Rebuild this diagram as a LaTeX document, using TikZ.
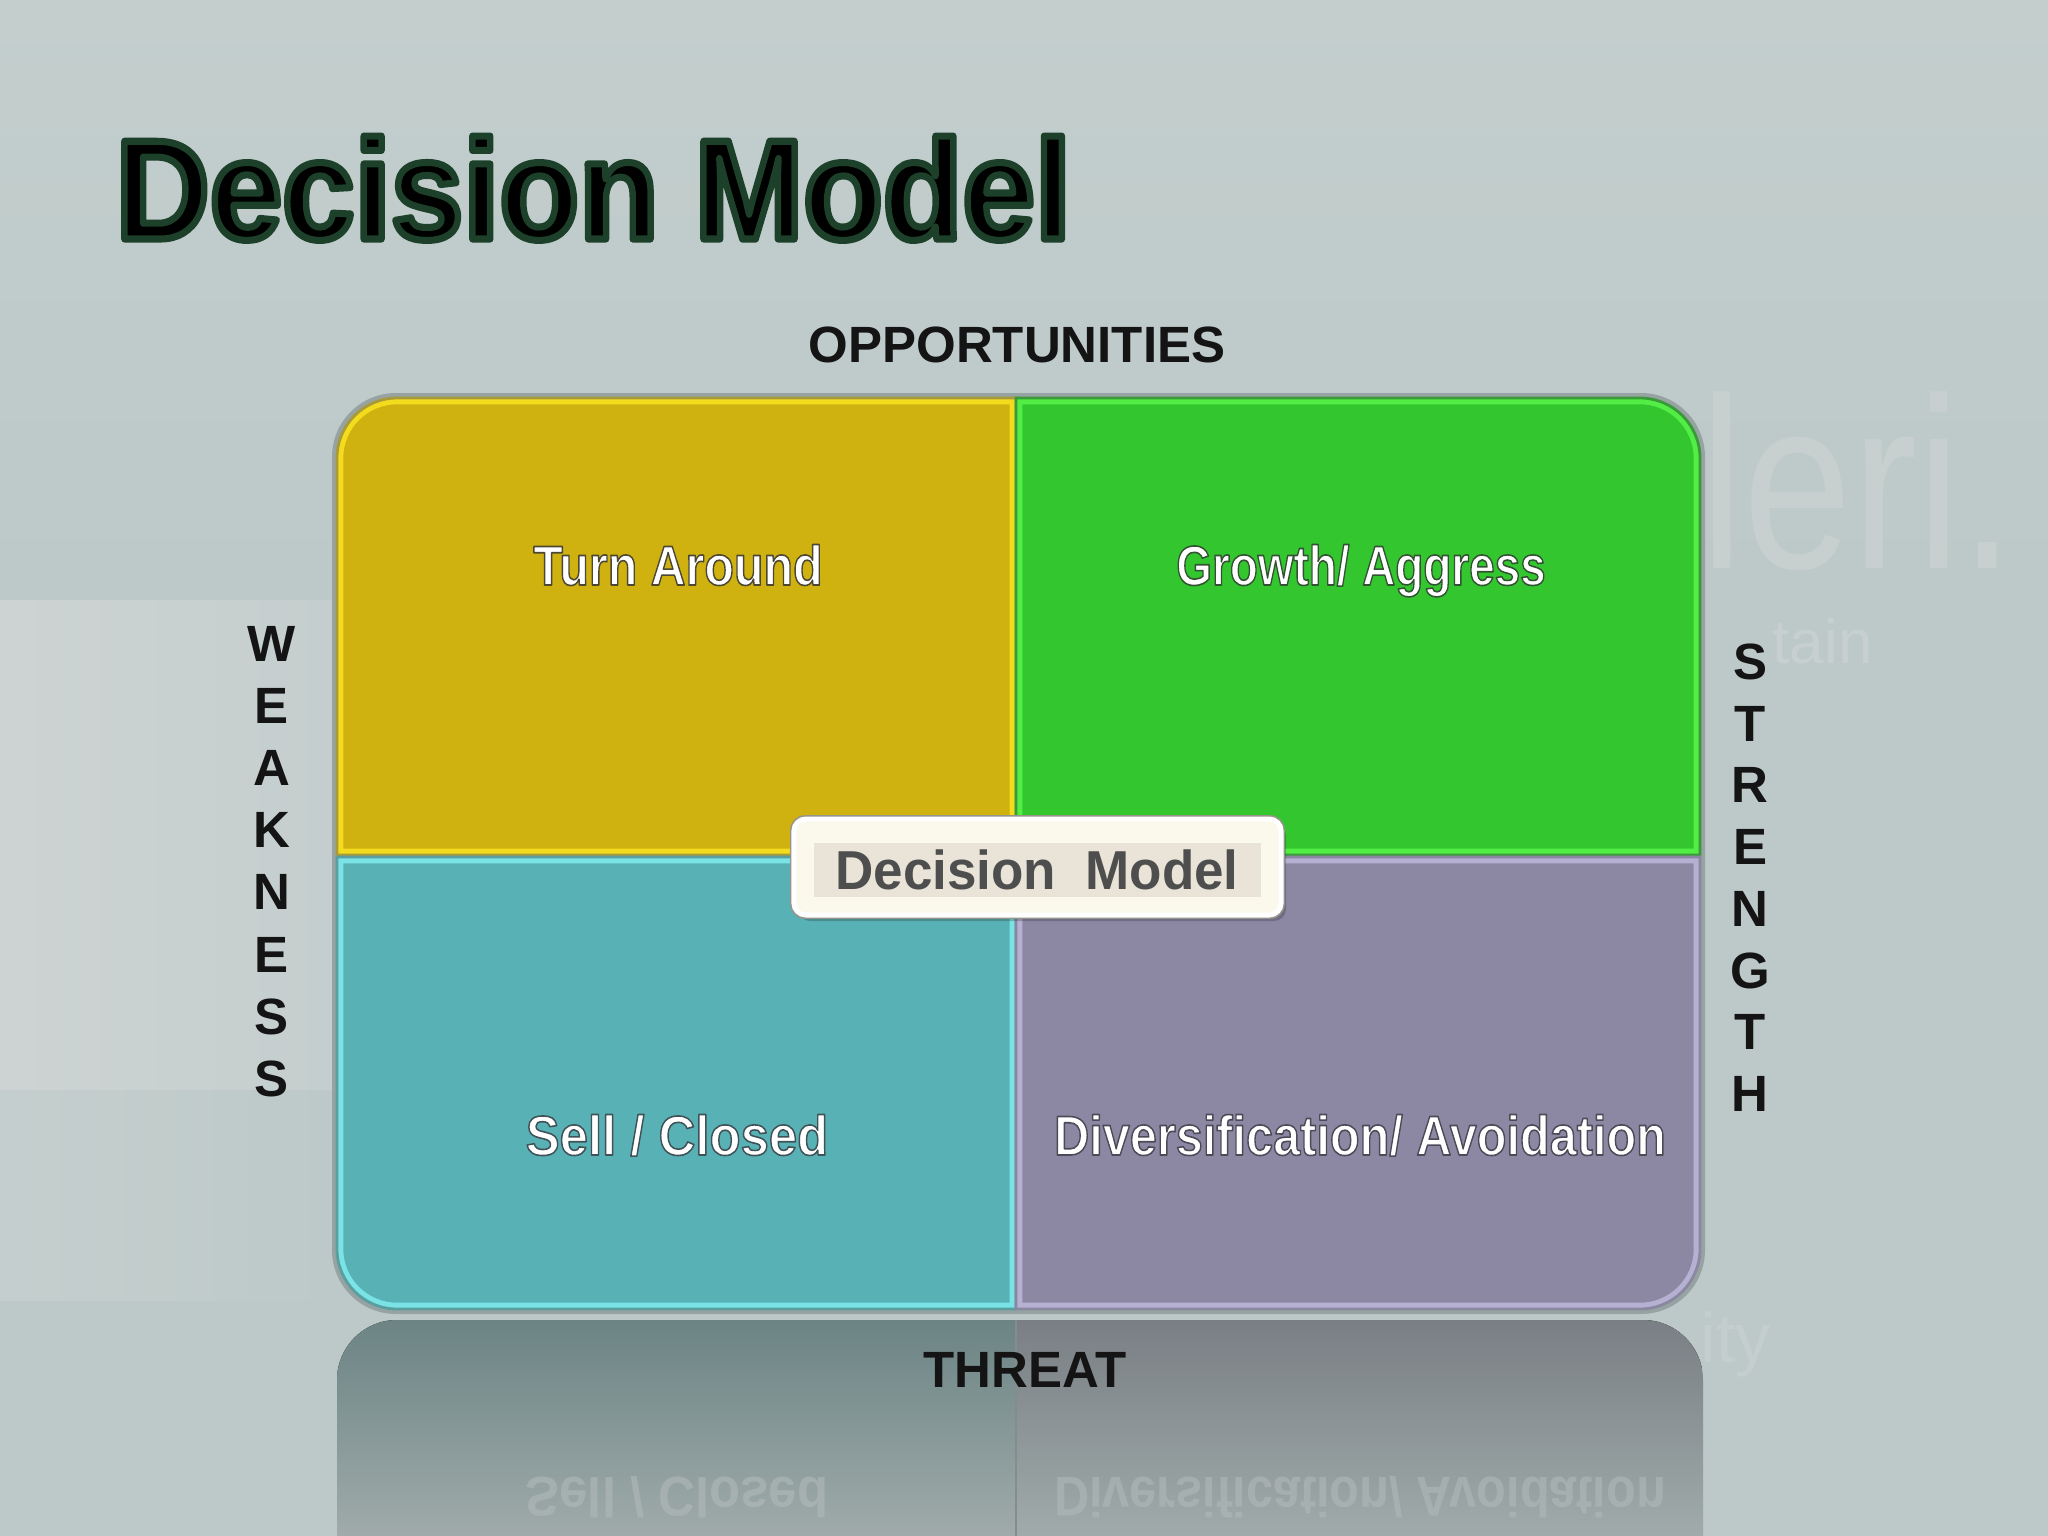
\documentclass[tikz,border=0pt]{standalone}
\usepackage{fontspec}
\setmainfont{Liberation Sans}
\definecolor{bgc}{HTML}{BCC9C8}
\definecolor{bgtop}{HTML}{C3CECD}
\definecolor{bgl}{HTML}{CDD3D3}
\definecolor{wm}{HTML}{C7D0CF}
\definecolor{goldM}{HTML}{CFB10F}
\definecolor{goldL}{HTML}{F3DB1E}
\definecolor{goldD}{HTML}{A89A3A}
\definecolor{grnM}{HTML}{33C62E}
\definecolor{grnL}{HTML}{52EE46}
\definecolor{grnD}{HTML}{3A9A3A}
\definecolor{tealM}{HTML}{58B2B5}
\definecolor{tealL}{HTML}{7AE3E6}
\definecolor{tealD}{HTML}{5A9EA0}
\definecolor{purM}{HTML}{8C88A4}
\definecolor{purL}{HTML}{B6B0D2}
\definecolor{purD}{HTML}{8A88A0}
\definecolor{halo}{HTML}{97A3A3}
\definecolor{creamF}{HTML}{FBF8EC}
\definecolor{creamB}{HTML}{E9E4D7}
\definecolor{cdark}{HTML}{4E4E4E}
\definecolor{reflT}{HTML}{B3BBBB}
% text drawn with a coloured outline (fill + stroke, render mode 2, round joins)
\newcommand\strk[3]{\special{pdf:literal direct #1 w 1 j #2 RG 2 Tr}#3\special{pdf:literal direct 0 Tr}}
\newcommand\quadrant[4]{%
  \begin{scope}
    \clip[#1];
    \fill[fill=#2,#1];
    \draw[draw=#3,line width=3.6pt,#1];
  \end{scope}
  \draw[draw=#4,line width=0.8pt,#1];}
\begin{document}
\begin{tikzpicture}[x=0.01cm,y=-0.01cm,
  axislbl/.style={font=\fontsize{14.5}{17}\selectfont\bfseries,text=black!92,inner sep=0},
  qfont/.style={font=\fontsize{15.9}{19}\selectfont\bfseries,inner sep=0,anchor=base},
  qlbl/.style={qfont,text=white},
  refl/.style={qfont,text=reflT,opacity=0.55},
  titlefont/.style={font=\fontsize{40.4}{48}\selectfont\bfseries,inner sep=0,anchor=base west,xscale=0.917},
  pTL/.style={insert path={(337,855) -- (337,458) arc[start angle=180,end angle=270,radius=60] -- (1016,398) -- (1016,855) -- cycle}},
  pTR/.style={insert path={(1016,855) -- (1016,398) -- (1640,398) arc[start angle=270,end angle=360,radius=60] -- (1700,855) -- cycle}},
  pBL/.style={insert path={(337,857) -- (1016,857) -- (1016,1309) -- (397,1309) arc[start angle=90,end angle=180,radius=60] -- cycle}},
  pBR/.style={insert path={(1016,857) -- (1700,857) -- (1700,1249) arc[start angle=0,end angle=90,radius=60] -- (1016,1309) -- cycle}},
  pRF/.style={insert path={(337,1536) -- (337,1380) arc[start angle=180,end angle=270,radius=60] -- (1643,1320) arc[start angle=270,end angle=360,radius=60] -- (1703,1536) -- cycle}},
]
\useasboundingbox (0,0) rectangle (2048,1536);
% background
\fill[bgc] (0,0) rectangle (2048,1536);
\fill[top color=bgtop, bottom color=bgc] (0,0) rectangle (2048,600);
\fill[left color=bgl, right color=bgl!50!bgc] (0,600) rectangle (340,1090);
\fill[left color=bgl!55!bgc, right color=bgc] (0,1090) rectangle (340,1300);
% faint watermark
\node[font=\fontsize{69.4}{80}\selectfont,text=wm,inner sep=0,text depth=0pt,anchor=base west,xscale=0.8] (wm1) at (1700,568) {leri.};
\node[font=\fontsize{17.6}{21}\selectfont,text=wm,inner sep=0,text depth=0pt,anchor=base west] (wm2) at (1772,663) {tain};
\node[font=\fontsize{20}{24}\selectfont,text=wm!70!bgc,inner sep=0,anchor=base west] (wm3) at (1700,1362) {ity};
% title with dark green fringe
\node[titlefont,text=black] (title) at (115,239) {\strk{2.0}{0.11 0.25 0.16}{Decision Model}};
% reflection
\begin{scope}
  \clip[pRF];
  \fill[top color=black!40!bgc!80!tealM, bottom color=bgc!85!black] (337,1320) rectangle (1016,1536);
  \fill[top color=black!38!bgc!80!purM, bottom color=bgc!85!black] (1016,1320) rectangle (1703,1536);
  \draw[bgc!70!black,line width=0.6pt] (1016,1320) -- (1016,1536);
\end{scope}
\node[refl,xscale=0.91,yscale=-1] (rsc) at (677,1477) {Sell / Closed};
\node[refl,xscale=0.87,yscale=-1] (rda) at (1360,1477) {Diversification/ Avoidation};
% halo around matrix
\fill[halo, rounded corners=0.64cm] (332,393) rectangle (1705,1314);
% quadrants
\quadrant{pTL}{goldM}{goldL}{goldD}
\quadrant{pTR}{grnM}{grnL}{grnD}
\quadrant{pBL}{tealM}{tealL}{tealD}
\quadrant{pBR}{purM}{purL}{purD}
% quadrant labels
\node[qlbl,xscale=0.865] (ta) at (678,585) {\strk{0.45}{0.3 0.28 0.2}{Turn Around}};
\node[qlbl,xscale=0.82] (ga) at (1361,585) {\strk{0.45}{0.2 0.32 0.2}{Growth/ Aggress}};
\node[qlbl,xscale=0.91] (sc) at (677,1155) {\strk{0.45}{0.25 0.32 0.34}{Sell / Closed}};
\node[qlbl,xscale=0.87] (da) at (1360,1155) {\strk{0.45}{0.3 0.29 0.34}{Diversification/ Avoidation}};
% centre label
\fill[black,opacity=0.2,rounded corners=0.12cm] (798,824) rectangle (1286,921);
\draw[black!35!creamB,line width=0.5pt,rounded corners=0.14cm] (791,816) rectangle (1284,918);
\node[draw=white,fill=creamF,line width=1.4pt,rounded corners=0.12cm,minimum width=4.87cm,minimum height=0.96cm,inner sep=0] (cbox) at (1037.5,867) {};
\fill[creamB] (814,843) rectangle (1261,897);
\node[font=\fontsize{15.6}{19}\selectfont\bfseries,text=cdark,inner sep=0,anchor=base,xscale=0.966] (cdm) at (1037,889) {Decision\ \ Model};
% axis labels
\node[axislbl,anchor=base] (opp) at (1017,362) {OPPORTUNITIES};
\node[axislbl,anchor=base] (thr) at (1025,1387) {THREAT};
\foreach \ch [count=\i from 0] in {W,E,A,K,N,E,S,S}
  \node[axislbl] (wk\i) at (272,644+62.1*\i) {\ch};
\foreach \ch [count=\i from 0] in {S,T,R,E,N,G,T,H}
  \node[axislbl] (st\i) at (1750,662+61.7*\i) {\ch};
\end{tikzpicture}
\end{document}
